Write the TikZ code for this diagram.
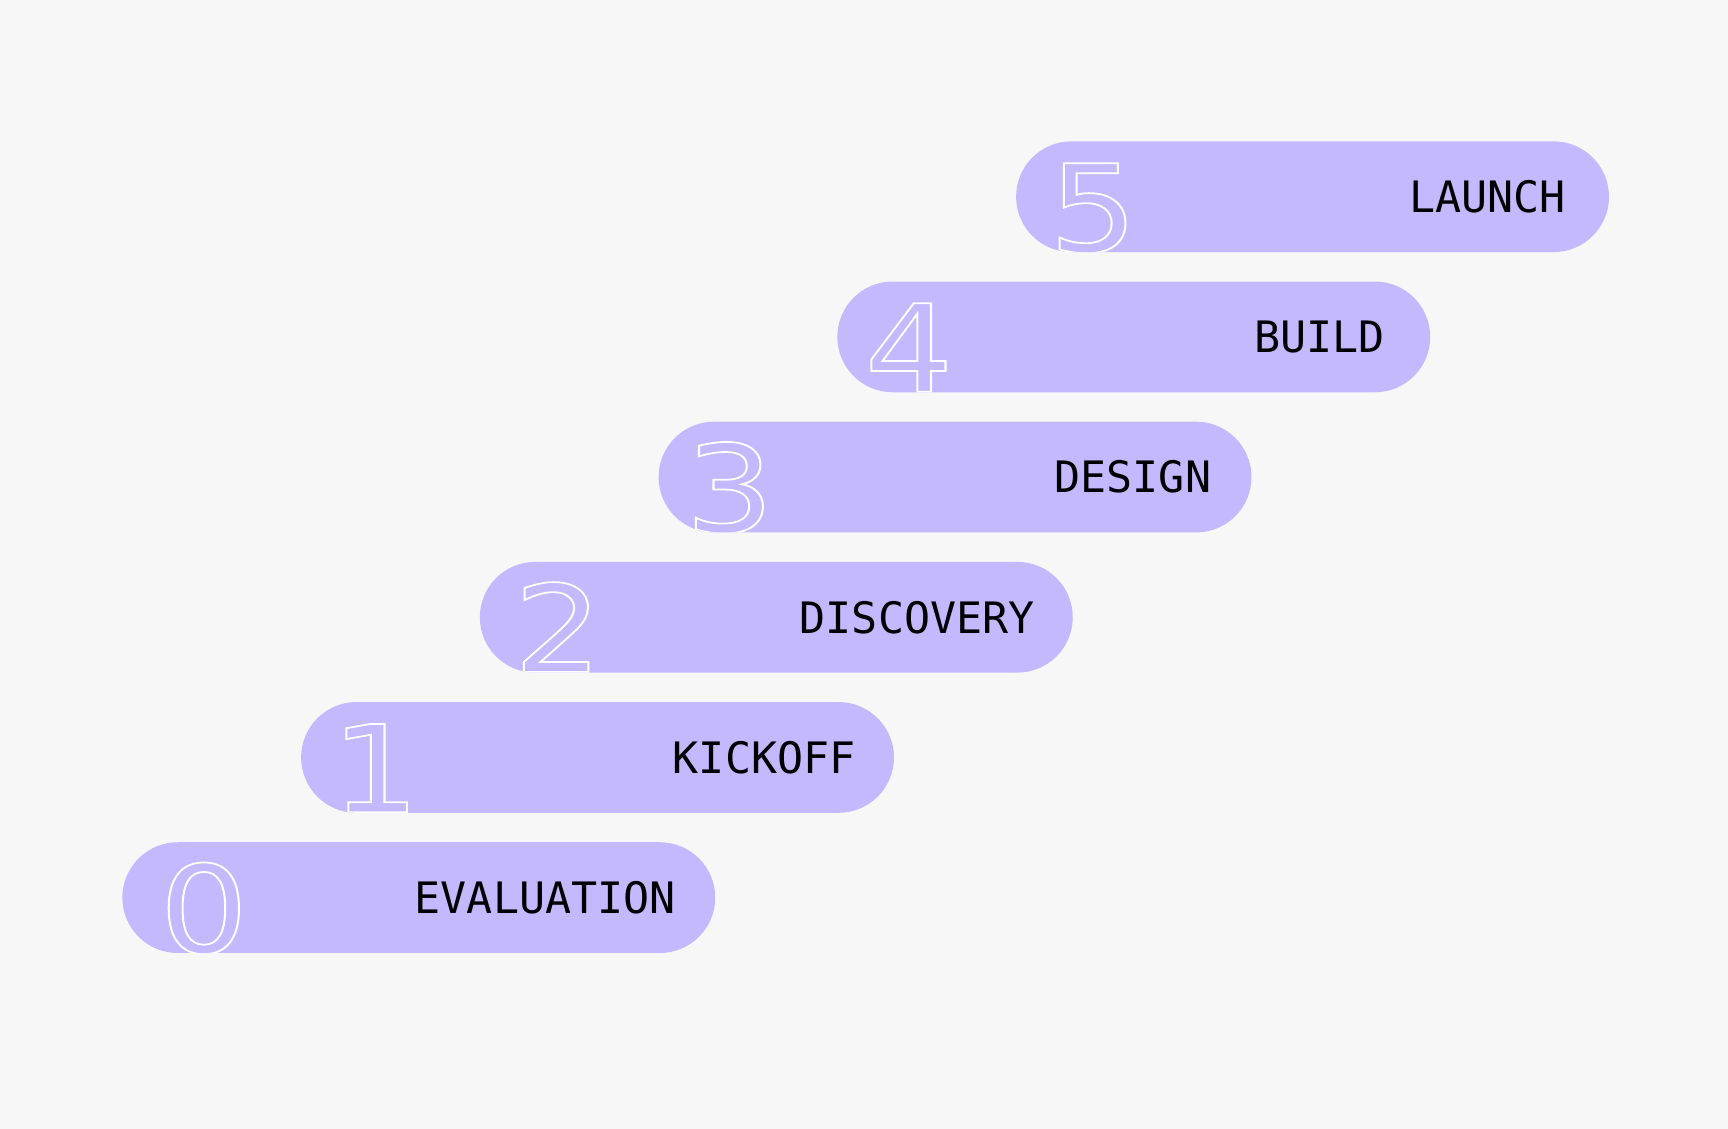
\documentclass[tikz,border=0pt]{standalone}
\usepackage{fontspec}
\usepackage{graphicx}
\usetikzlibrary{shapes.misc}
\newfontfamily\labelfont{DejaVu Sans Mono}
\newfontfamily\digitfont{DejaVu Sans}
\definecolor{bgc}{HTML}{F7F7F7}
\definecolor{pillc}{HTML}{C4B9FF}
\newcommand{\outlinedigit}[1]{\special{pdf:literal direct 1 Tr 1.6 w}#1\special{pdf:literal direct 0 Tr 0.4 w}}
\tikzset{
  pill/.style={rounded rectangle, fill=pillc, draw=none, minimum width=538pt, minimum height=100.5pt, inner sep=0pt},
  steplabel/.style={font=\labelfont\fontsize{39.3}{39.3}\selectfont, anchor=east, inner sep=0pt, text=black},
  bignum/.style={font=\digitfont\fontsize{110}{110}\selectfont, anchor=base, inner sep=0pt, text=white},
}
\begin{document}
\begin{tikzpicture}[x=1pt,y=-1pt]
\fill[bgc] (0,0) rectangle (1568,1024);
\path[use as bounding box] (0,0) rectangle (1568,1024);
\foreach \i/\lab/\off/\gap in {0/EVALUATION/74/36,1/KICKOFF/67.5/35,2/DISCOVERY/71/34.7,3/DESIGN/64.5/36.6,4/BUILD/65/41.3,5/LAUNCH/70/39.5}{
  \node[pill, path picture={\node[bignum] (d\i) at ([xshift=\off pt, yshift=0.5pt]path picture bounding box.south west) {\scalebox{1.15}[1]{\outlinedigit{\i}}};}] (p\i) at ({380+162.2*\i},{814.5-127.2*\i}) {};
  \node[steplabel] (l\i) at ([xshift=-\gap pt]p\i.east) {\lab};
}
\end{tikzpicture}
\end{document}
